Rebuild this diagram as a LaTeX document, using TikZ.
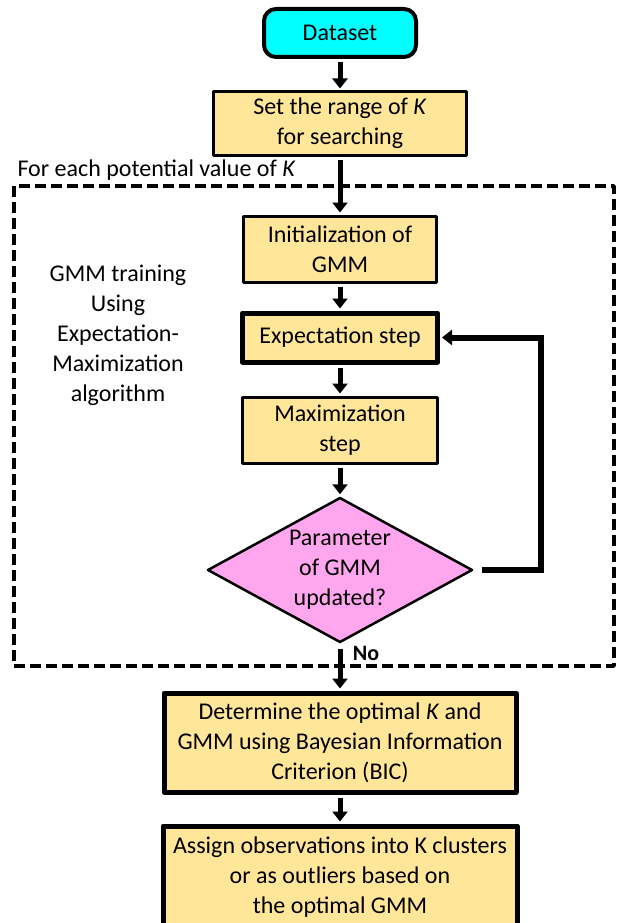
\documentclass[tikz,border=0pt]{standalone}
\usepackage{fontspec}
\setmainfont{Carlito}
\usetikzlibrary{arrows.meta,shapes.geometric}

\definecolor{boxyellow}{HTML}{FFE699}
\definecolor{startcyan}{HTML}{00FFFF}
\definecolor{decpink}{HTML}{FFA6EE}

\begin{document}
\begin{tikzpicture}[
        x = 1pt, y = -1pt,
        line join=round,
        every node/.style = {font=\fontsize{24}{30}\selectfont, align=center},
        stepbox/.style = {draw, line width=3pt, fill=boxyellow, inner sep=0pt},
        startbox/.style = {draw, line width=4pt, fill=startcyan, rounded corners=12pt, inner sep=0pt},
        decision/.style = {diamond, draw, line width=2.5pt, fill=decpink, inner sep=0pt, aspect=1.83},
        flow/.style = {line width=5pt, -{Triangle[width=15pt,length=10pt]}, shorten <=3pt, shorten >=2pt},
        loopbox/.style = {line width=3.5pt, dash pattern=on 11pt off 5pt}
    ]

    \useasboundingbox (0, 0) rectangle (620, 923);

    \node[startbox, minimum width=152pt, minimum height=48pt] (data) at (340, 33) {Dataset};
    \node[stepbox, minimum width=253pt, minimum height=63pt] (range) at (340, 123.5) {Set the range of \textit{K}\\for searching};
    \node[stepbox, minimum width=193pt, minimum height=66pt] (init) at (340, 249) {Initialization of\\GMM};
    \node[stepbox, line width=5pt, minimum width=195pt, minimum height=49pt] (estep) at (340, 337.5) {Expectation step};
    \node[stepbox, minimum width=195pt, minimum height=66pt] (mstep) at (340, 430) {Maximization\\step};
    \node[decision, minimum width=265pt, minimum height=145pt] (check) at (340, 570) {Parameter\\of GMM\\updated?};
    \node[stepbox, line width=5pt, minimum width=352pt, minimum height=99pt] (bic) at (340, 742.5)
        {Determine the optimal \textit{K} and\\GMM using Bayesian Information\\Criterion (BIC)};
    \node[stepbox, line width=5pt, minimum width=354pt, minimum height=102pt] (assign) at (340, 877)
        {Assign observations into K clusters\\or as outliers based on\\the optimal GMM};

    \node[anchor=west] (foreach) at (14, 170) {For each potential value of \textit{K}};
    \node (emtext) at (118, 335) {GMM training\\Using\\Expectation-\\Maximization\\algorithm};
    \node[font=\fontsize{22}{26}\selectfont\bfseries] (no) at (366, 653) {No};

    % EM loop region
    \draw[loopbox] (14, 186) rectangle (614, 666);

    \draw[flow] (data) -- (range);
    \draw[flow] (range) -- (init);
    \draw[flow] (init) -- (estep);
    \draw[flow] (estep) -- (mstep);
    \draw[flow] (mstep) -- (check);
    \draw[flow, shorten <=5pt] (check) -- (bic);
    \draw[flow] (bic) -- (assign);
    \draw[flow, line width=6pt, line join=miter, shorten <=8pt] (check.east) -- ++(67, 0) |- (estep.east);
\end{tikzpicture}
\end{document}
